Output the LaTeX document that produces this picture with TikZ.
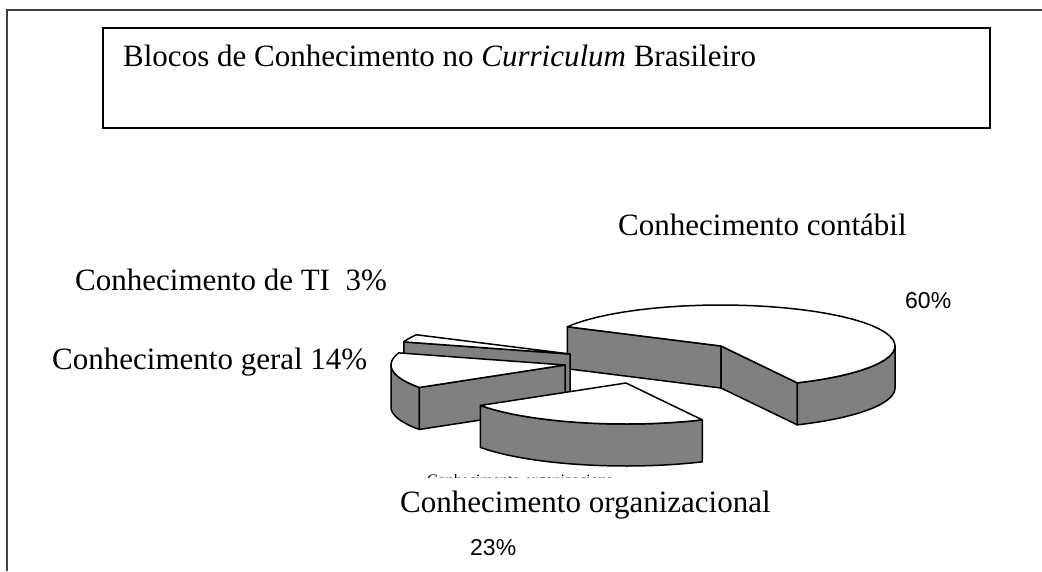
\documentclass[tikz,border=0pt]{standalone}
\usepackage{fontspec}
\setmainfont{Liberation Serif}
\newfontfamily\arial{Liberation Sans}
\newcommand{\rx}{174}
\newcommand{\ry}{41}
\newcommand{\hh}{42}
\newcommand{\topo}[4]{\draw[topo] (#1,#2) -- plot[domain=#3:#4,samples=40] ({#1+\rx*cos(\x)},{#2-\ry*sin(\x)}) -- cycle;}
\newcommand{\borda}[4]{\draw[lado] plot[domain=#3:#4,samples=40] ({#1+\rx*cos(\x)},{#2-\ry*sin(\x)}) -- plot[domain=#4:#3,samples=40] ({#1+\rx*cos(\x)},{#2+\hh-\ry*sin(\x)}) -- cycle;}
\newcommand{\faceradial}[3]{\draw[lado] (#1,#2) -- ({#1+\rx*cos(#3)},{#2-\ry*sin(#3)}) -- ++(0,\hh) -- ({#1},{#2+\hh}) -- cycle;}
\begin{document}
\begin{tikzpicture}[x=1pt,y=-1pt,
  every node/.style={inner sep=0pt, font=\fontsize{31}{36}\selectfont},
  pct/.style={font=\arial\fontsize{23}{27}\selectfont},
  topo/.style={draw, fill=white, line width=1.5pt, line join=round},
  lado/.style={draw, fill=gray, line width=1.5pt, line join=round}]
\useasboundingbox (0,0) rectangle (1042,571);
\draw[line width=2pt, black!75] (1042,10) -- (7,10) -- (7,571);
\draw[line width=1.6pt] (103,28) rectangle (990,128);
\node[anchor=base west] (titulo) at (123,66) {Blocos de Conhecimento no \textit{Curriculum} Brasileiro};

\faceradial{721}{346}{152}
\faceradial{721}{346}{-64}
\borda{721}{346}{-64}{0}
\topo{721}{346}{-64}{152}

\faceradial{570}{354}{162.8}
\topo{570}{354}{152}{162.8}

\borda{565}{365}{180}{213.2}
\faceradial{565}{365}{213.2}
\topo{565}{365}{162.8}{213.2}

\borda{626}{383}{-146.8}{-64}
\topo{626}{383}{-146.8}{-64}

\node[anchor=base west] (contabil) at (618,235) {Conhecimento contábil};
\node[pct, anchor=base west] (p60) at (905,308) {60\%};
\node[anchor=base west] (ti) at (75,290) {Conhecimento de TI\ \ 3\%};
\node[anchor=base west] (geral) at (52,369) {Conhecimento geral 14\%};
\begin{scope}
\clip (420,473) rectangle (610,477);
\node[anchor=base west, font=\fontsize{16}{19}\selectfont] (corte) at (427,485) {Conhecimento organizacional};
\end{scope}
\node[anchor=base west] (organizacional) at (400,512) {Conhecimento organizacional};
\node[pct, anchor=base west] (p23) at (470,555) {23\%};
\end{tikzpicture}
\end{document}
